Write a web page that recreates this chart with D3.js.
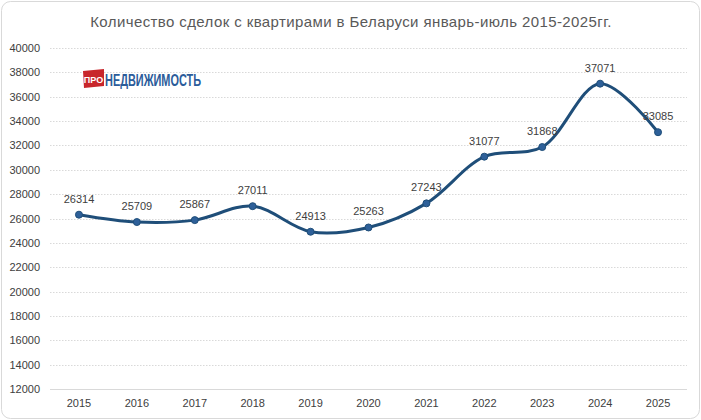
<!DOCTYPE html>
<html><head><meta charset="utf-8">
<script src="https://cdn.jsdelivr.net/npm/d3@7"></script>
<style>body{margin:0;background:#fff}svg{display:block}</style>
</head><body>
<script>
const years = ["2015","2016","2017","2018","2019","2020","2021","2022","2023","2024","2025"];
const deals = [26314,25709,25867,27011,24913,25263,27243,31077,31868,37071,33085];
const yTicks = [12000,14000,16000,18000,20000,22000,24000,26000,28000,30000,32000,34000,36000,38000,40000];
const title = "Количество сделок с квартирами в Беларуси январь-июль 2015-2025гг.";

const W=701,H=420;
const svg=d3.select("body").append("svg").attr("width",W).attr("height",H);
svg.append("rect").attr("x",1.5).attr("y",1.5).attr("width",W-3).attr("height",H-3)
  .attr("rx",9).attr("fill","#fff").attr("stroke","#d9d9d9");

const x=d3.scaleBand().domain(years).range([50,687]);
const y=d3.scaleLinear().domain([12000,40000]).range([389,48]);

const g=svg.append("g");
g.selectAll("line.grid").data(yTicks.filter(d=>d>12000)).join("line")
  .attr("x1",50).attr("x2",687).attr("y1",d=>Math.round(y(d))+0.5).attr("y2",d=>Math.round(y(d))+0.5)
  .attr("stroke","#d9d9d9").attr("stroke-dasharray","1.5,1.5");
g.append("line").attr("x1",50).attr("x2",687).attr("y1",Math.round(y(12000))+0.5).attr("y2",Math.round(y(12000))+0.5)
  .attr("stroke","#d9d9d9");

const yAxis=d3.axisLeft(y).tickValues(yTicks).tickSize(0).tickPadding(10).tickFormat(d3.format("d"));
const ya=svg.append("g").attr("transform","translate(50,0)").call(yAxis);
ya.select(".domain").remove();
ya.selectAll("text").attr("font-family","Liberation Sans, Arial, sans-serif").attr("font-size",11).attr("fill","#404040");

const xAxis=d3.axisBottom(x).tickSize(0).tickPadding(10);
const xa=svg.append("g").attr("transform",`translate(0,${y(12000)})`).call(xAxis);
xa.select(".domain").remove();
xa.selectAll("text").attr("font-family","Liberation Sans, Arial, sans-serif").attr("font-size",11).attr("fill","#404040");

const cx=d=>x(d)+x.bandwidth()/2;
const pts=years.map((yr,i)=>[cx(yr),y(deals[i])]);
svg.append("path").datum(pts).attr("d",d3.line().curve(d3.curveCatmullRom.alpha(0.5)))
  .attr("fill","none").attr("stroke","#1f4e79").attr("stroke-width",3).attr("stroke-linecap","round");
svg.selectAll("circle.pt").data(years).join("circle")
  .attr("cx",d=>cx(d)).attr("cy",(d,i)=>y(deals[i])).attr("r",3.5)
  .attr("fill","#2e6099").attr("stroke","#1f4e79").attr("stroke-width",1);
svg.selectAll("text.lbl").data(years).join("text")
  .attr("x",d=>cx(d)).attr("y",(d,i)=>y(deals[i])-12).attr("text-anchor","middle")
  .attr("font-family","Liberation Sans, Arial, sans-serif").attr("font-size",11).attr("fill","#404040")
  .text((d,i)=>deals[i]);

svg.append("text").attr("x",351).attr("y",27).attr("text-anchor","middle")
  .attr("font-family","Liberation Sans, Arial, sans-serif").attr("font-size",15).attr("fill","#595959")
  .attr("letter-spacing",0.4).text(title);

// logo
const lg=svg.append("g");
lg.append("path").attr("d","M83,71 L104,69 L104,86 L84,88 Z").attr("fill","#c8262c");
lg.append("text").attr("x",93.5).attr("y",82.5).attr("text-anchor","middle")
  .attr("font-family","Liberation Sans Narrow, Liberation Sans, Arial, sans-serif").attr("font-weight","bold")
  .attr("font-size",9).attr("fill","#fff").text("ПРО");
lg.append("text").attr("x",105).attr("y",86).attr("textLength",96).attr("lengthAdjust","spacingAndGlyphs")
  .attr("font-family","Liberation Sans Narrow, Liberation Sans, Arial, sans-serif").attr("font-weight","bold")
  .attr("font-size",17).attr("fill","#2b5c9a").text("НЕДВИЖИМОСТЬ");
</script>
</body></html>
